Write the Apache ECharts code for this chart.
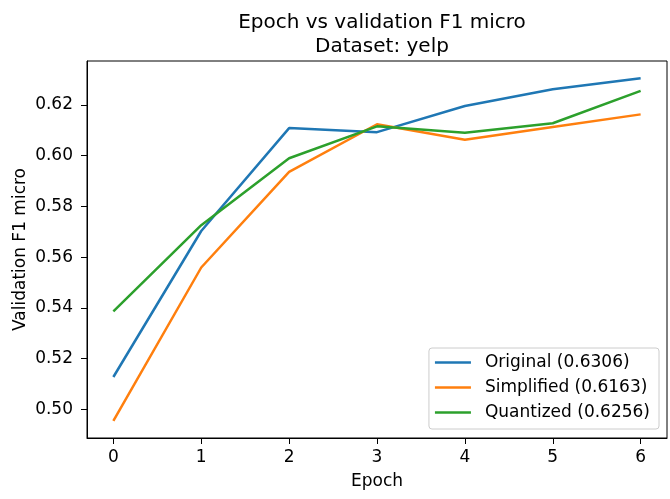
<!DOCTYPE html>
<html>
<head>
<meta charset="utf-8">
<script src="https://cdn.jsdelivr.net/npm/echarts@6/dist/echarts.min.js"></script>
<style>
  html, body { margin: 0; padding: 0; background: #fff; }
  #chart { width: 670px; height: 499px; }
</style>
</head>
<body>
<div id="chart"></div>
<script>
// data
var epochs = [0, 1, 2, 3, 4, 5, 6];
var original = [0.5127, 0.5703, 0.6109, 0.6093, 0.6196, 0.6262, 0.6306];
var simplified = [0.4954, 0.5559, 0.5936, 0.6124, 0.6063, 0.6113, 0.6163];
var quantized = [0.5386, 0.5726, 0.5990, 0.6116, 0.6091, 0.6128, 0.6256];
var yTicks = [0.50, 0.52, 0.54, 0.56, 0.58, 0.60, 0.62];

var seriesNames = ['Original (0.6306)', 'Simplified (0.6163)', 'Quantized (0.6256)'];
var colorList = ['#1f77b4', '#ff7f0e', '#2ca02c'];

var font = 'DejaVu Sans';

function pairs(ys) {
    return epochs.map(function (x, i) { return [x, ys[i]]; });
}

// matplotlib style 5% margins
var all = original.concat(simplified, quantized);
var lo = Math.min.apply(null, all), hi = Math.max.apply(null, all);
var pad = (hi - lo) * 0.05;

var chart = echarts.init(document.getElementById('chart'), null, {renderer: 'canvas'});

var option = {
    animation: false,
    backgroundColor: '#fff',
    color: colorList,
    title: {
        text: 'Epoch vs validation F1 micro\nDataset: yelp',
        left: 377,
        top: 6,
        textAlign: 'center',
        textStyle: {
            fontFamily: font,
            fontSize: 20,
            fontWeight: 'normal',
            color: '#000',
            lineHeight: 24
        }
    },
    grid: {
        left: 87,
        right: 3,
        top: 61,
        bottom: 61,
        show: true,
        borderColor: '#000',
        borderWidth: 1,
        backgroundColor: 'transparent'
    },
    legend: {
        orient: 'vertical',
        right: 11,
        bottom: 70,
        padding: [6, 9, 8, 6],
        itemGap: 8,
        itemWidth: 36,
        itemHeight: 2.5,
        icon: 'rect',
        backgroundColor: 'rgba(255,255,255,0.8)',
        borderColor: '#cccccc',
        borderWidth: 1,
        borderRadius: 3,
        textStyle: {
            fontFamily: font,
            fontSize: 17,
            color: '#000',
            lineHeight: 17,
            padding: [0, 0, 0, 9]
        },
        data: seriesNames
    },
    xAxis: {
        type: 'value',
        min: -0.3,
        max: 6.3,
        name: 'Epoch',
        nameLocation: 'middle',
        nameGap: 35,
        nameMoveOverlap: false,
        nameTextStyle: {fontFamily: font, fontSize: 17, color: '#000', lineHeight: 17},
        axisLine: {show: true, onZero: false, lineStyle: {color: '#000', width: 1}},
        axisTick: {show: true, length: 6, customValues: epochs, lineStyle: {color: '#000', width: 1}},
        axisLabel: {
            customValues: epochs,
            margin: 11,
            fontFamily: font,
            fontSize: 17,
            color: '#000',
            lineHeight: 17
        },
        splitLine: {show: false}
    },
    yAxis: {
        type: 'value',
        min: lo - pad,
        max: hi + pad,
        name: 'Validation F1 micro',
        nameLocation: 'middle',
        nameGap: 58,
        nameMoveOverlap: false,
        nameTextStyle: {fontFamily: font, fontSize: 17, color: '#000', lineHeight: 17},
        axisLine: {show: true, onZero: false, lineStyle: {color: '#000', width: 1}},
        axisTick: {show: true, length: 6, customValues: yTicks, lineStyle: {color: '#000', width: 1}},
        axisLabel: {
            customValues: yTicks,
            margin: 14,
            fontFamily: font,
            fontSize: 17,
            color: '#000',
            formatter: function (v) { return v.toFixed(2); }
        },
        splitLine: {show: false}
    },
    series: [
        {name: seriesNames[0], type: 'line', data: pairs(original), symbol: 'none', lineStyle: {width: 2.5, color: colorList[0]}},
        {name: seriesNames[1], type: 'line', data: pairs(simplified), symbol: 'none', lineStyle: {width: 2.5, color: colorList[1]}},
        {name: seriesNames[2], type: 'line', data: pairs(quantized), symbol: 'none', lineStyle: {width: 2.5, color: colorList[2]}}
    ]
};

chart.setOption(option);
</script>
</body>
</html>
